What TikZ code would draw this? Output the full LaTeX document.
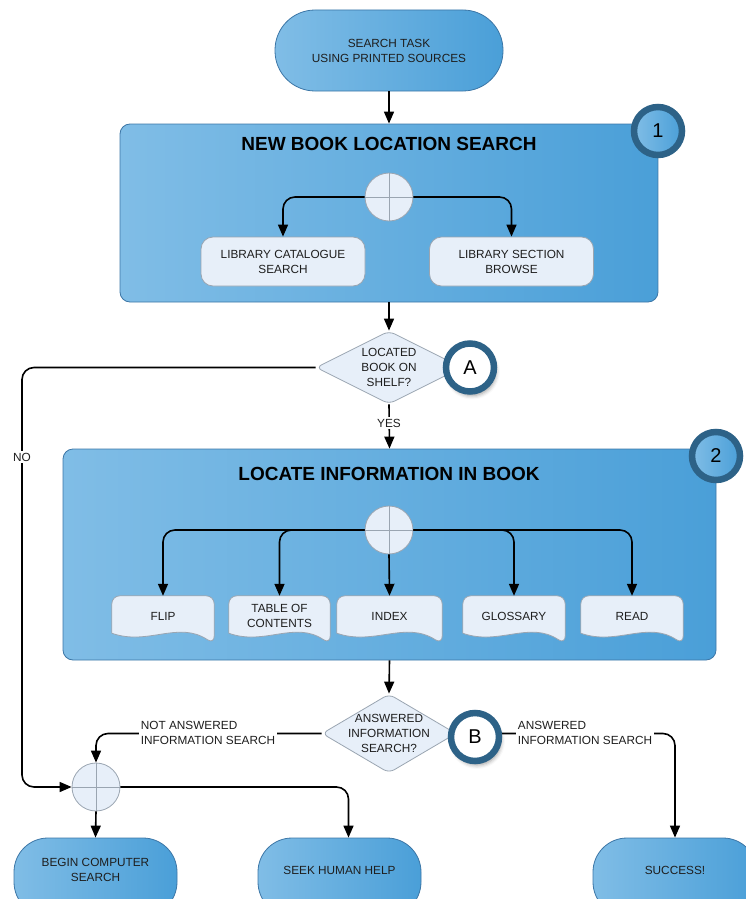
\documentclass[tikz,border=0pt]{standalone}
\usepackage{fontspec}
\setmainfont{Liberation Sans}
\usetikzlibrary{arrows.meta,shapes.geometric,shadows.blur,calc}
\definecolor{bL}{HTML}{80BDE6}
\definecolor{bR}{HTML}{4A9FD8}
\definecolor{bEdge}{HTML}{3C76A6}
\definecolor{ring}{HTML}{2D6287}
\definecolor{pale}{HTML}{E7EFF9}
\definecolor{paleEdge}{HTML}{9AA5B1}
\definecolor{ink}{HTML}{1E1E1E}
\tikzset{
 lbl/.style={font=\fontsize{11.8}{15}\selectfont, text=ink, align=center},
 container/.style={draw=bEdge, line width=0.8pt, left color=bL, right color=bR, rounded corners=10pt, inner sep=0},
 terminal/.style={draw=bEdge, line width=0.8pt, left color=bL, right color=bR, lbl, inner sep=0},
 whitebox/.style={draw=paleEdge, fill=pale, line width=0.8pt, rounded corners=12pt, lbl, minimum width=164pt, minimum height=49pt, inner sep=0},
 joint/.style={circle, draw=paleEdge, fill=pale, line width=0.8pt, minimum size=48pt, inner sep=0,
   path picture={\draw[paleEdge,line width=0.8pt] (path picture bounding box.north) -- (path picture bounding box.south) (path picture bounding box.west) -- (path picture bounding box.east);}},
 decision/.style={diamond, draw=paleEdge, fill=pale, line width=0.8pt, rounded corners=6pt, inner sep=0},
 docbox/.style={rectangle, minimum height=48pt, inner sep=0},
 docline/.style={draw=paleEdge, fill=pale, line width=0.8pt},
 conn/.style={draw=black, line width=1.6pt, -{Triangle[length=12pt,width=10pt]}, rounded corners=12pt},
 tag/.style={fill=white, lbl, inner sep=1.5pt},
 titletext/.style={font=\fontsize{19}{23}\selectfont\bfseries, text=black},
 badge/.style={circle, draw=ring, line width=6.5pt, minimum size=48pt, inner sep=0, font=\fontsize{20}{24}\selectfont, text=black},
 badgeshadow/.style={blur shadow={shadow xshift=2pt, shadow yshift=-4pt, shadow blur radius=4pt, shadow opacity=40}},
}
\newcommand\docshape[1]{%
 \path[docline] ($(#1.south west)+(0,-11)$) [rounded corners=8pt] -- (#1.north west) -- (#1.north east) -- (#1.south east) [sharp corners]
  .. controls ($(#1.south west)!0.65!(#1.south east)+(0,-24)$) and ($(#1.south west)!0.35!(#1.south east)+(0,2)$) .. ($(#1.south west)+(0,-11)$);}
\begin{document}
\begin{tikzpicture}[x=1pt,y=-1pt]
\useasboundingbox (0,0) rectangle (746,899);

% containers
\node[container, minimum width=538pt, minimum height=178pt] (box1) at (389,213) {};
\node[container, minimum width=653pt, minimum height=211pt] (box2) at (389.5,554.5) {};
\node[titletext] (t1) at (389,144) {NEW BOOK LOCATION SEARCH};
\node[titletext] (t2) at (389,474) {LOCATE INFORMATION IN BOOK};

% terminals
\node[terminal, rounded corners=40pt, minimum width=228pt, minimum height=81pt] (top) at (389,50.5) {SEARCH TASK\\USING PRINTED SOURCES};
\node[terminal, rounded corners=34pt, minimum width=163pt, minimum height=78pt,
  label={[lbl,yshift=7pt]center:BEGIN COMPUTER\\SEARCH}] (begin) at (95.5,877) {};
\node[terminal, rounded corners=34pt, minimum width=163pt, minimum height=78pt,
  label={[lbl,yshift=7pt]center:SEEK HUMAN HELP}] (seek) at (339.5,877) {};
\node[terminal, rounded corners=34pt, minimum width=164pt, minimum height=78pt,
  label={[lbl,yshift=7pt]center:SUCCESS!}] (succ) at (675,877) {};

% inner boxes
\node[joint] (j1) at (389,197) {};
\node[whitebox] (lcs) at (283,261.5) {LIBRARY CATALOGUE\\SEARCH};
\node[whitebox] (lsb) at (511.5,261.5) {LIBRARY SECTION\\BROWSE};

\node[joint] (j2) at (389,530) {};
\node[docbox, minimum width=102pt] (flip) at (163,620) {};
\node[docbox, minimum width=101pt] (toc) at (279.5,620) {};
\node[docbox, minimum width=105pt] (index) at (389.5,620) {};
\node[docbox, minimum width=102pt] (gloss) at (514,620) {};
\node[docbox, minimum width=102pt] (read) at (632,620) {};
\docshape{flip}\docshape{toc}\docshape{index}\docshape{gloss}\docshape{read}
\node[lbl] (flipt) at (163,616) {FLIP};
\node[lbl] (toct) at (279.5,616) {TABLE OF\\CONTENTS};
\node[lbl] (indext) at (389.5,616) {INDEX};
\node[lbl] (glosst) at (514,616) {GLOSSARY};
\node[lbl] (readt) at (632,616) {READ};

% decisions
\node[decision, aspect=2, minimum width=146pt, minimum height=73pt,
  label={[lbl]center:LOCATED\\BOOK ON\\SHELF?}] (dA) at (389,367.5) {};
\node[decision, aspect=1.7, minimum width=134pt, minimum height=79pt,
  label={[lbl]center:ANSWERED\\INFORMATION\\SEARCH?}] (dB) at (389,733.5) {};

\node[joint] (j3) at (96,787) {};
\coordinate (nocorner) at (22,787);

% connectors
\draw[conn] (top.south) -- (box1.north);
\draw[conn] (j1.west) -| (lcs.north);
\draw[conn] (j1.east) -| (lsb.north);
\draw[conn] (box1.south) -- (dA.north);
\draw[conn] (dA.west) -| (nocorner) -- (j3.west);
\draw[conn] (dA.south) -- (box2.north);
\draw[conn] (j2.west) -| (flip.north);
\draw[conn] (j2.west) -| (toc.north);
\draw[conn] (j2.south) -- (index.north);
\draw[conn] (j2.east) -| (gloss.north);
\draw[conn] (j2.east) -| (read.north);
\draw[conn] (box2.south) -- (dB.north);
\draw[conn] (dB.west) -| (j3.north);
\draw[conn] (dB.east) -| (succ.north);
\draw[conn] (j3.east) -| ([xshift=9pt]seek.north);
\draw[conn] (j3.south) -- (begin.north);

% connector labels
\node[tag] (yes) at (389,423) {YES};
\node[tag] (no) at (22,457) {NO};
\node[tag, align=left] (nans) at (208,733) {NOT ANSWERED\\INFORMATION SEARCH};
\node[tag, align=left] (ans) at (585,733) {ANSWERED\\INFORMATION SEARCH};

% badges
\node[badge, left color=bL, right color=bR] (b1) at (658,131) {1};
\node[badge, left color=bL, right color=bR] (b2) at (716,456) {2};
\node[badge, fill=white, badgeshadow] (bA) at (470,367.5) {A};
\node[badge, fill=white, badgeshadow] (bB) at (475,737) {B};
\end{tikzpicture}
\end{document}
